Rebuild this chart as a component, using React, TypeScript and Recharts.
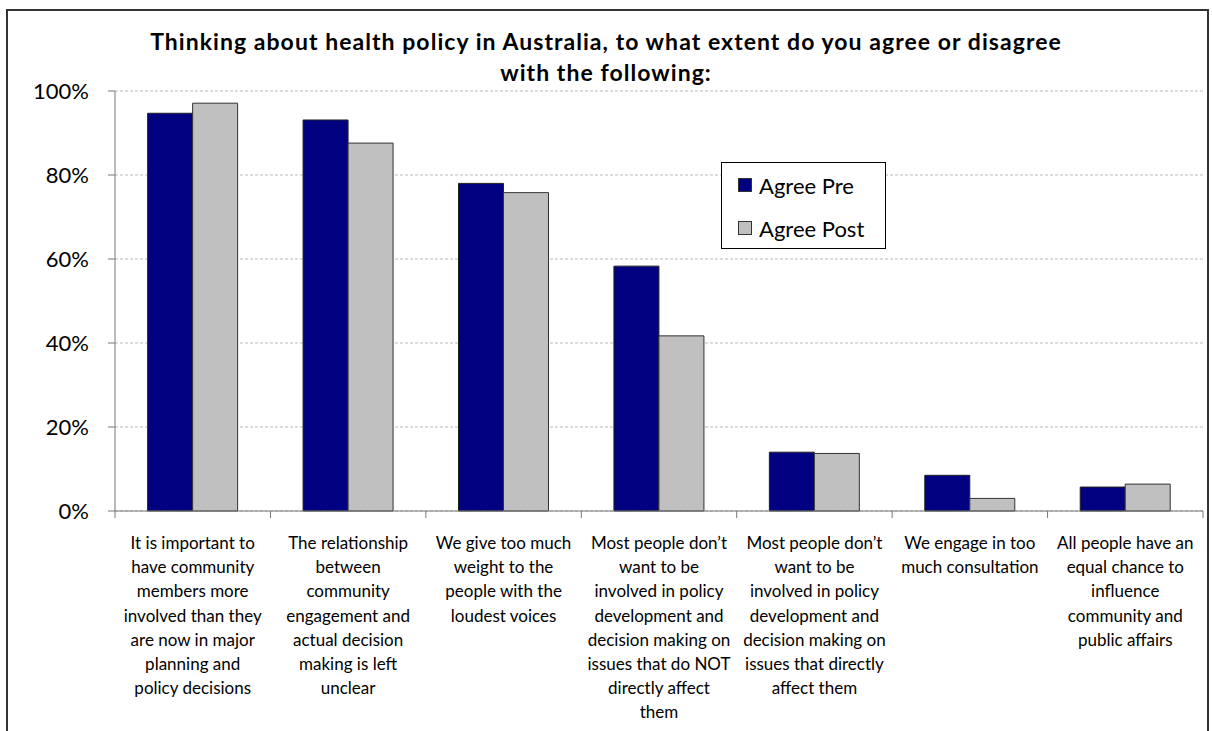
import React from "react";
import { BarChart, Bar, XAxis, YAxis, CartesianGrid } from "recharts";

const titleLines = [
  "Thinking about health policy in Australia, to what extent do you agree or disagree",
  "with the following:",
];

const categories = [
  "It is important to have community members more involved than they are now in major planning and policy decisions",
  "The relationship between community engagement and actual decision making is left unclear",
  "We give too much weight to the people with the loudest voices",
  "Most people don’t want to be involved in policy development and decision making on issues that do NOT directly affect them",
  "Most people don’t want to be involved in policy development and decision making on issues that directly affect them",
  "We engage in too much consultation",
  "All people have an equal chance to influence community and public affairs",
];

const tickLines: string[][] = [
  ["It is important to", "have community", "members more", "involved than they", "are now in major", "planning and", "policy decisions"],
  ["The relationship", "between", "community", "engagement and", "actual decision", "making is left", "unclear"],
  ["We give too much", "weight to the", "people with the", "loudest voices"],
  ["Most people don’t", "want to be", "involved in policy", "development and", "decision making on", "issues that do NOT", "directly affect", "them"],
  ["Most people don’t", "want to be", "involved in policy", "development and", "decision making on", "issues that directly", "affect them"],
  ["We engage in too", "much consultation"],
  ["All people have an", "equal chance to", "influence", "community and", "public affairs"],
];

const seriesNames = ["Agree Pre", "Agree Post"];
const agreePre = [94.7, 93.1, 78.0, 58.3, 14.0, 8.5, 5.7];
const agreePost = [97.1, 87.6, 75.8, 41.7, 13.7, 3.0, 6.4];
const yTicks = [0, 20, 40, 60, 80, 100];

const data = categories.map((c, i) => ({ name: c, pre: agreePre[i], post: agreePost[i], idx: i }));

const W = 1212;
const H = 731;
const M = { top: 91, right: 9, left: 55, bottom: 20 };
const Y_W = 60;
const PLOT_W = W - M.left - M.right - Y_W;
const FONT = "Lato, 'Open Sans', sans-serif";
const PRE_COLOR = "#000080";
const POST_COLOR = "#C0C0C0";

const CategoryTick = (props: any) => {
  const { x, y, payload } = props;
  const i = payload.index;
  const bw = PLOT_W / categories.length;
  const lines = tickLines[i] || [];
  return (
    <g>
      <line x1={x - bw / 2} x2={x - bw / 2} y1={y} y2={y + 7} stroke="#777" />
      {i === categories.length - 1 && (
        <line x1={x + bw / 2} x2={x + bw / 2} y1={y} y2={y + 7} stroke="#777" />
      )}
      <text x={x} y={y + 38} textAnchor="middle" fontSize={17} fill="#000" fontFamily={FONT}>
        {lines.map((l, k) => (
          <tspan key={k} x={x} dy={k === 0 ? 0 : 24.2}>
            {l}
          </tspan>
        ))}
      </text>
    </g>
  );
};

const LegendBox = () => (
  <div
    style={{
      position: "absolute",
      left: 721,
      top: 162,
      width: 165,
      height: 87,
      border: "1px solid #000",
      background: "#fff",
      boxSizing: "border-box",
      fontFamily: FONT,
      fontSize: 22,
      color: "#000",
      paddingLeft: 16,
      paddingTop: 4,
    }}
  >
    {[
      { label: seriesNames[0], color: PRE_COLOR },
      { label: seriesNames[1], color: POST_COLOR },
    ].map((e) => (
      <div key={e.label} style={{ display: "flex", alignItems: "center", height: 36, marginBottom: 7 }}>
        <span
          style={{
            display: "inline-block",
            width: 14,
            height: 14,
            boxSizing: "border-box",
            background: e.color,
            border: "1px solid #333",
            marginRight: 7,
          }}
        />
        <span>{e.label}</span>
      </div>
    ))}
  </div>
);

export default function App() {
  return (
    <div style={{ position: "absolute", left: 0, top: 0, width: W, height: H, background: "#fff", overflow: "hidden" }}>
      <div
        style={{
          position: "absolute",
          left: 6,
          top: 9,
          width: 1203,
          height: 760,
          border: "2px solid #333",
          boxSizing: "border-box",
        }}
      />
      <div
        style={{
          position: "absolute",
          left: 0,
          top: 26,
          width: W,
          textAlign: "center",
          fontFamily: FONT,
          fontWeight: 700,
          fontSize: 23,
          letterSpacing: "1.05px",
          lineHeight: "31px",
          color: "#000",
        }}
      >
        {titleLines.map((t) => (
          <div key={t}>{t}</div>
        ))}
      </div>
      <div style={{ position: "absolute", left: 0, top: 0 }}>
        <BarChart width={W} height={H} data={data} margin={M} barCategoryGap="21%" barGap={0}>
          <CartesianGrid vertical={false} stroke="#bbb" strokeDasharray="3 2" />
          <XAxis
            dataKey="name"
            height={200}
            interval={0}
            tickLine={false}
            tickSize={0}
            tickMargin={0}
            axisLine={{ stroke: "#777" }}
            tick={<CategoryTick />}
          />
          <YAxis
            width={Y_W}
            domain={[0, 100]}
            ticks={yTicks}
            tickFormatter={(v: number) => `${v}%`}
            tickSize={7}
            tickMargin={19}
            axisLine={{ stroke: "#777" }}
            tickLine={{ stroke: "#777" }}
            tick={{ fontSize: 22, fill: "#000", fontFamily: FONT }}
          />
          <Bar dataKey="pre" name={seriesNames[0]} fill={PRE_COLOR} stroke="#222" strokeWidth={1} isAnimationActive={false} />
          <Bar dataKey="post" name={seriesNames[1]} fill={POST_COLOR} stroke="#333" strokeWidth={1} isAnimationActive={false} />
        </BarChart>
      </div>
      <LegendBox />
    </div>
  );
}
